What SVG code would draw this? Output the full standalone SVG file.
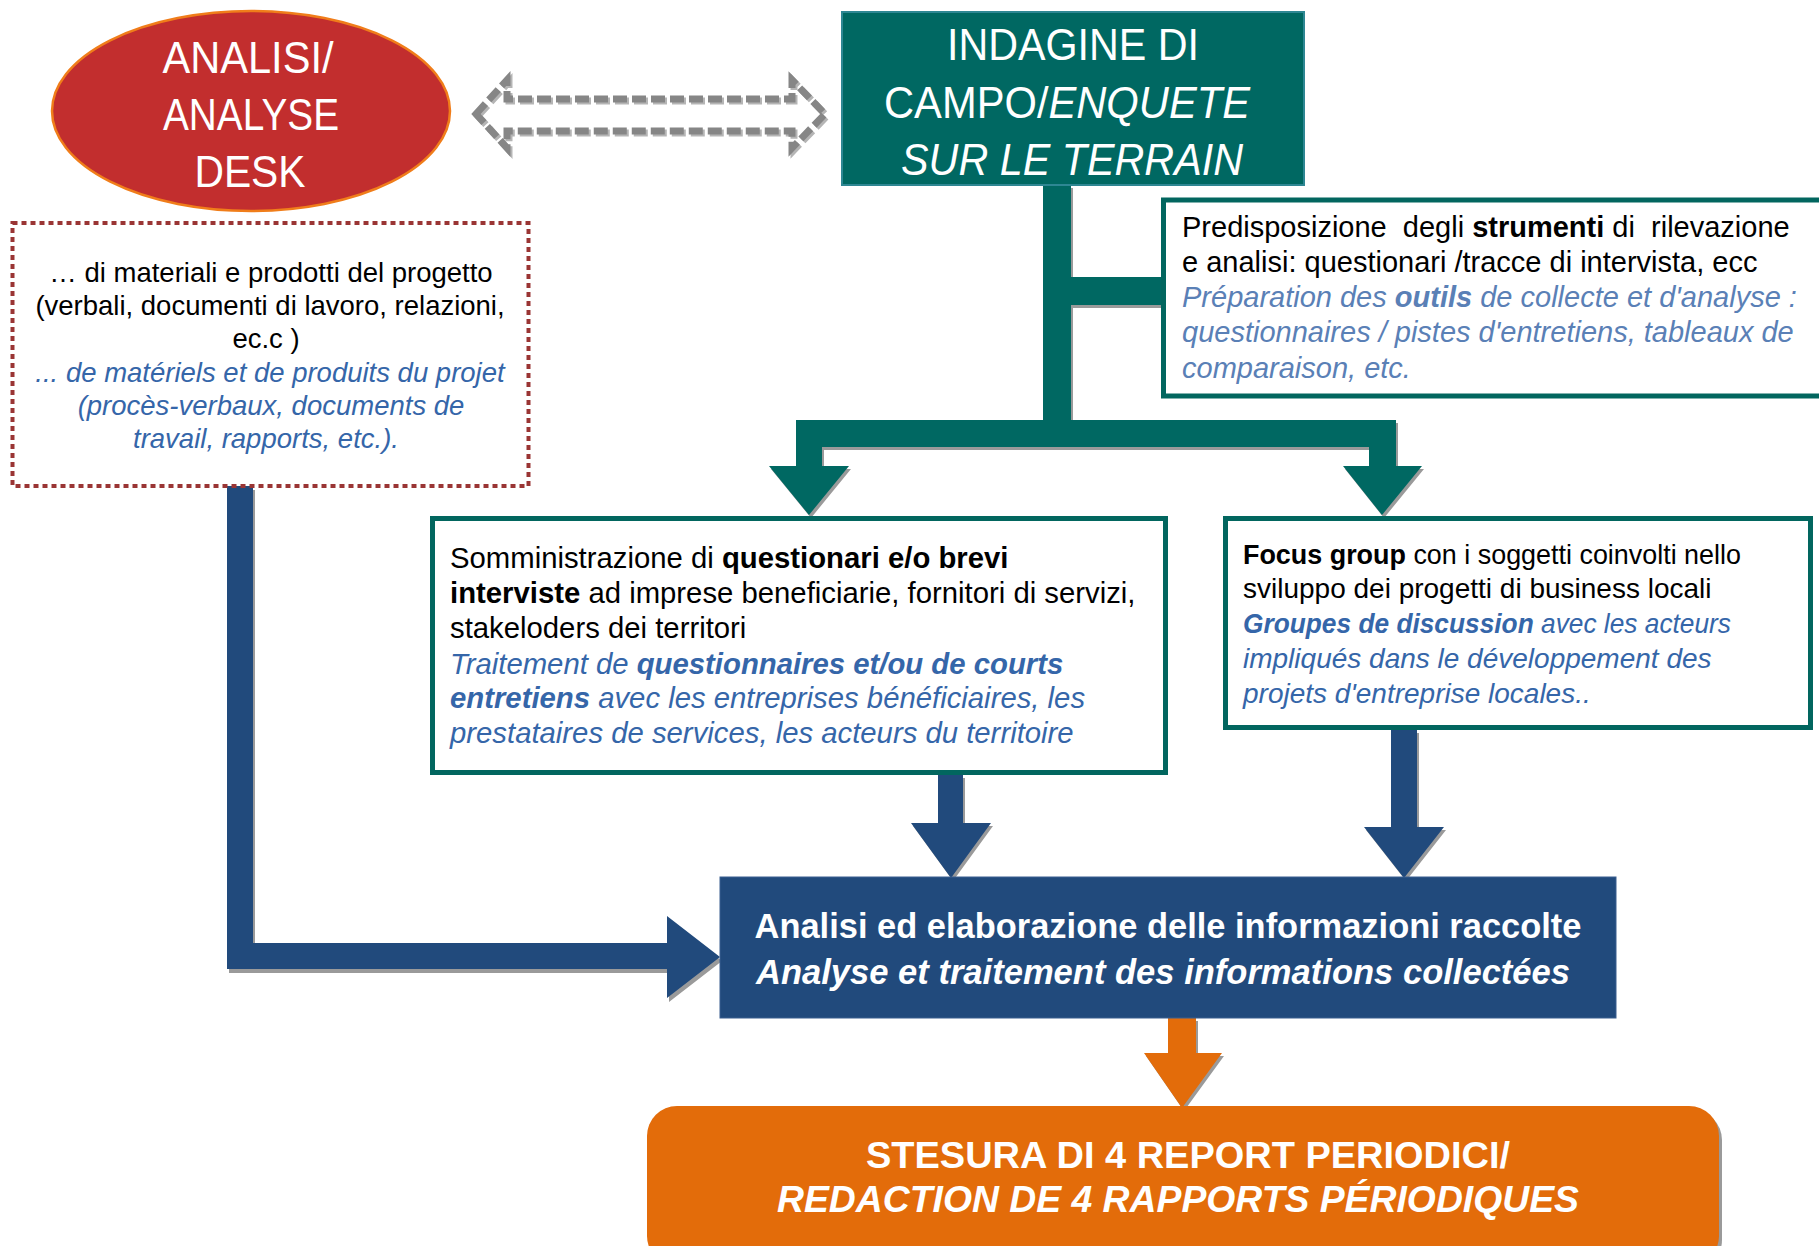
<svg xmlns="http://www.w3.org/2000/svg" width="1819" height="1246" viewBox="0 0 1819 1246">
<style>
  .t { font-family: "Liberation Sans", Arial, sans-serif; }
  .w { fill: #ffffff; }
  .k { fill: #000000; }
  .bl { fill: #3566A9; font-style: italic; }
  .bl2 { fill: #5A80B6; font-style: italic; }
  .b { font-weight: bold; }
  .i { font-style: italic; }
  .box { fill: #ffffff; stroke: #02665F; stroke-width: 5; }
  .teal { fill: #006862; }
  .navy { fill: #214A7C; }
  .orange { fill: #E36C0A; }
  .shadow { fill: #9A9A9A; }
</style>
<rect width="1819" height="1246" fill="#ffffff"/>

<g id="connectors">
  <!-- dashed double arrow -->
  <path d="M478,116 L509,82 L509,101 L794,101 L794,82 L827,116 L794,150 L794,133 L509,133 L509,150 Z" fill="none" stroke="#B5B5B5" stroke-width="7" stroke-dasharray="14 5"/>
  <path d="M476,114 L507,80 L507,99 L792,99 L792,80 L825,114 L792,148 L792,131 L507,131 L507,148 Z" fill="none" stroke="#868686" stroke-width="7" stroke-dasharray="14 5"/>
  <!-- teal tree -->
  <path class="shadow" transform="translate(2,3)" d="M1043,185 L1071,185 L1071,277 L1162,277 L1162,305 L1071,305 L1071,420 L1396,420 L1396,466 L1422,466 L1382,515 L1343,466 L1369,466 L1369,447 L822,447 L822,466 L849,466 L809,515 L769,466 L796,466 L796,420 L1043,420 Z"/>
  <path class="teal" d="M1043,185 L1071,185 L1071,277 L1162,277 L1162,305 L1071,305 L1071,420 L1396,420 L1396,466 L1422,466 L1382,515 L1343,466 L1369,466 L1369,447 L822,447 L822,466 L849,466 L809,515 L769,466 L796,466 L796,420 L1043,420 Z"/>
  <!-- blue L arrow -->
  <path class="shadow" transform="translate(2,4)" d="M227,486 L253,486 L253,943 L667,943 L667,916 L720,957 L667,998 L667,969 L227,969 Z"/>
  <path class="navy" d="M227,486 L253,486 L253,943 L667,943 L667,916 L720,957 L667,998 L667,969 L227,969 Z"/>
  <!-- blue arrow from Somministrazione -->
  <path class="shadow" transform="translate(2,3)" d="M938,775 L963,775 L963,823 L991,823 L951,878 L911,823 L938,823 Z"/>
  <path class="navy" d="M938,775 L963,775 L963,823 L991,823 L951,878 L911,823 L938,823 Z"/>
  <!-- blue arrow from Focus -->
  <path class="shadow" transform="translate(2,3)" d="M1391,730 L1417,730 L1417,827 L1444,827 L1404,878 L1364,827 L1391,827 Z"/>
  <path class="navy" d="M1391,730 L1417,730 L1417,827 L1444,827 L1404,878 L1364,827 L1391,827 Z"/>
  <!-- orange arrow -->
  <path class="shadow" transform="translate(2,3)" d="M1168,1018 L1196,1018 L1196,1053 L1222,1053 L1182,1108 L1144,1053 L1168,1053 Z"/>
  <path class="orange" d="M1168,1018 L1196,1018 L1196,1053 L1222,1053 L1182,1108 L1144,1053 L1168,1053 Z"/>
</g>

<g id="analisi-desk">
  <ellipse cx="251" cy="111" rx="199" ry="100" fill="#C22E2E" stroke="#F07D1A" stroke-width="2.5"/>
  <text class="t w" font-size="44" text-anchor="middle" x="248" y="73" textLength="171" lengthAdjust="spacingAndGlyphs">ANALISI/</text>
  <text class="t w" font-size="44" text-anchor="middle" x="251" y="130" textLength="176" lengthAdjust="spacingAndGlyphs">ANALYSE</text>
  <text class="t w" font-size="44" text-anchor="middle" x="250" y="187" textLength="111" lengthAdjust="spacingAndGlyphs">DESK</text>
</g>

<g id="indagine">
  <rect x="842" y="12" width="462" height="173" fill="#006862" stroke="#2E8793" stroke-width="2"/>
  <text class="t w" font-size="44" text-anchor="middle" x="1073" y="60" textLength="252" lengthAdjust="spacingAndGlyphs">INDAGINE DI</text>
  <text class="t w" font-size="44" text-anchor="middle" x="1067" y="118" textLength="366" lengthAdjust="spacingAndGlyphs">CAMPO/<tspan class="i">ENQUETE</tspan></text>
  <text class="t w i" font-size="44" text-anchor="middle" x="1072" y="175" textLength="342" lengthAdjust="spacingAndGlyphs">SUR LE TERRAIN</text>
</g>

<g id="desk-materials">
  <rect x="12.5" y="223" width="516" height="263" fill="#ffffff" stroke="#9A3534" stroke-width="4" stroke-dasharray="5 4"/>
  <g class="t" font-size="27.5" text-anchor="middle">
    <text class="k" x="271" y="282">… di materiali e prodotti del progetto</text>
    <text class="k" x="270" y="315">(verbali, documenti di lavoro, relazioni,</text>
    <text class="k" x="266" y="348">ec.c )</text>
    <text class="bl" x="270" y="382">... de matériels et de produits du projet</text>
    <text class="bl" x="271" y="415">(procès-verbaux, documents de</text>
    <text class="bl" x="266" y="448">travail, rapports, etc.).</text>
  </g>
</g>

<g id="predisposizione">
  <rect x="1163.5" y="200" width="700" height="196" class="box"/>
  <g class="t" font-size="29">
    <text class="k" x="1182" y="237" xml:space="preserve">Predisposizione  degli <tspan class="b">strumenti</tspan> di  rilevazione</text>
    <text class="k" x="1182" y="272">e analisi: questionari /tracce di intervista, ecc</text>
    <text class="bl2" x="1182" y="307">Préparation des <tspan class="b">outils</tspan> de collecte et d'analyse :</text>
    <text class="bl2" x="1182" y="342">questionnaires / pistes d'entretiens, tableaux de</text>
    <text class="bl2" x="1182" y="378">comparaison, etc.</text>
  </g>
</g>

<g id="somministrazione">
  <rect x="432.5" y="518.5" width="733" height="254" class="box"/>
  <g class="t" font-size="29.3">
    <text class="k" x="450" y="568">Somministrazione di <tspan class="b">questionari e/o brevi</tspan></text>
    <text class="k" x="450" y="603"><tspan class="b">interviste</tspan> ad imprese beneficiarie, fornitori di servizi,</text>
    <text class="k" x="450" y="638">stakeloders dei territori</text>
    <text class="bl" x="450" y="674">Traitement de <tspan class="b">questionnaires et/ou de courts</tspan></text>
    <text class="bl" x="450" y="708"><tspan class="b">entretiens</tspan> avec les entreprises bénéficiaires, les</text>
    <text class="bl" x="450" y="743">prestataires de services, les acteurs du territoire</text>
  </g>
</g>

<g id="focus-group">
  <rect x="1225.5" y="518.5" width="585" height="209" class="box"/>
  <g class="t" font-size="28">
    <text class="k" x="1243" y="564" textLength="498" lengthAdjust="spacingAndGlyphs"><tspan class="b">Focus group</tspan> con i soggetti coinvolti nello</text>
    <text class="k" x="1243" y="598">sviluppo dei progetti di business locali</text>
    <text class="bl" x="1243" y="633" textLength="488" lengthAdjust="spacingAndGlyphs"><tspan class="b">Groupes de discussion</tspan> avec les acteurs</text>
    <text class="bl" x="1243" y="668">impliqués dans le développement des</text>
    <text class="bl" x="1243" y="703">projets d'entreprise locales..</text>
  </g>
</g>

<g id="analisi-elaborazione">
  <rect x="720" y="877" width="896" height="141" class="navy" stroke="#3A5F8F" stroke-width="1"/>
  <text class="t w b" font-size="34.5" text-anchor="middle" x="1168" y="938" textLength="827" lengthAdjust="spacingAndGlyphs">Analisi ed elaborazione delle informazioni raccolte</text>
  <text class="t w b i" font-size="34.5" text-anchor="middle" x="1163" y="984" textLength="814" lengthAdjust="spacingAndGlyphs">Analyse et traitement des informations collectées</text>
</g>

<g id="report">
  <rect x="650" y="1110" width="1072" height="160" rx="30" fill="#9A9A9A"/>
  <rect x="647" y="1106" width="1072" height="160" rx="30" class="orange"/>
  <text class="t w b" font-size="37.5" text-anchor="middle" x="1188" y="1168" textLength="644" lengthAdjust="spacingAndGlyphs">STESURA DI 4 REPORT PERIODICI/</text>
  <text class="t w b i" font-size="37.5" text-anchor="middle" x="1178" y="1212" textLength="802" lengthAdjust="spacingAndGlyphs">REDACTION DE 4 RAPPORTS PÉRIODIQUES</text>
</g>
</svg>
